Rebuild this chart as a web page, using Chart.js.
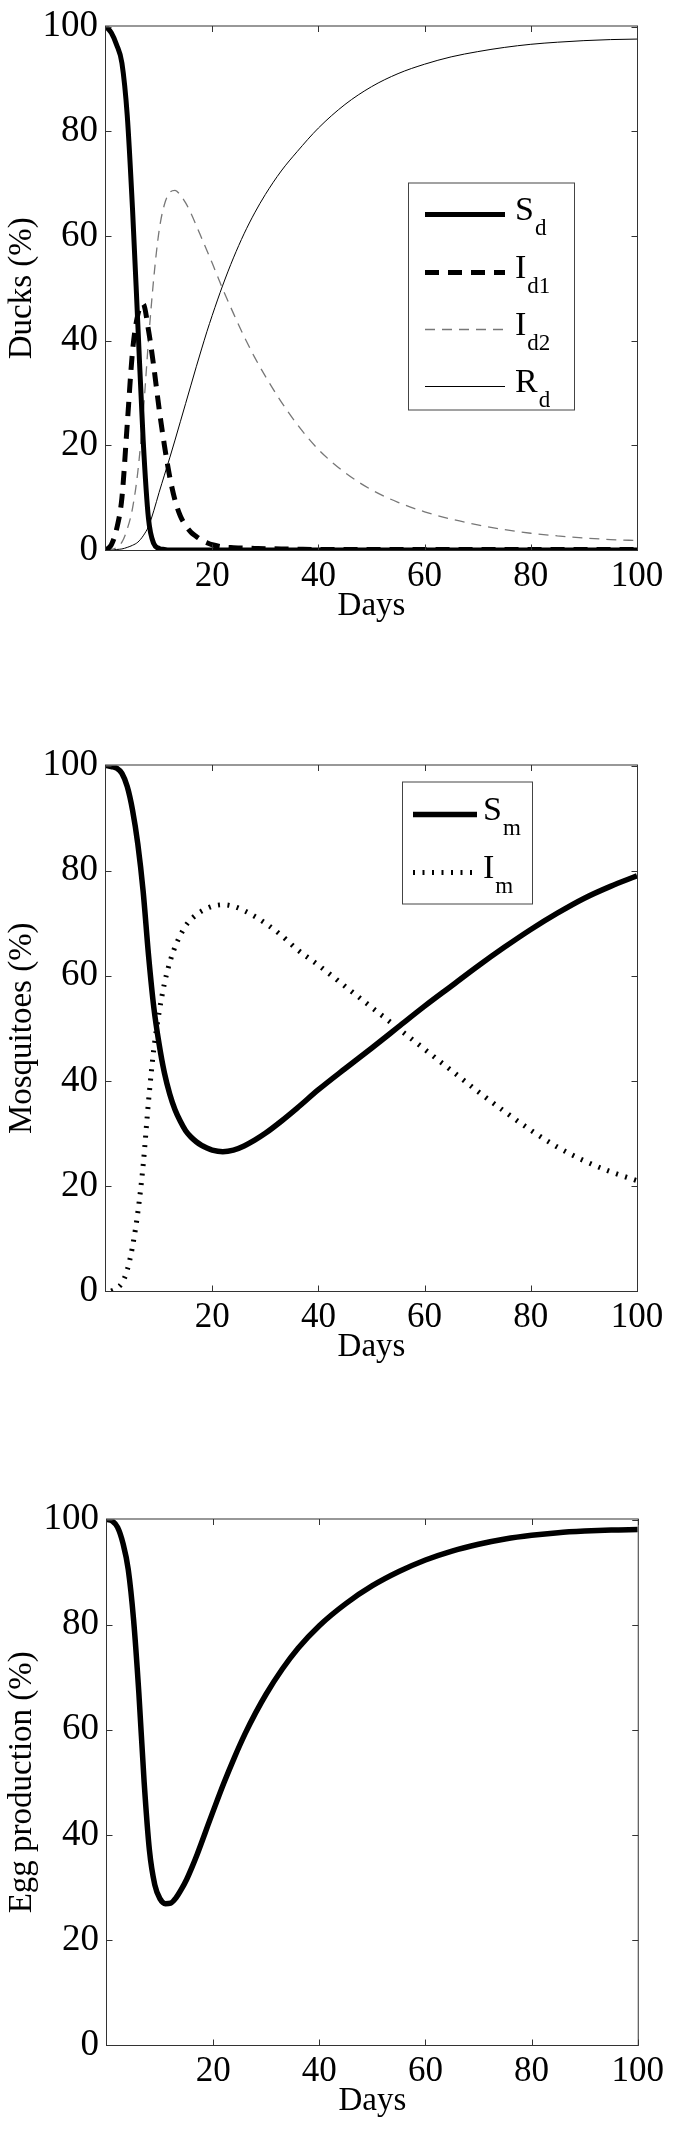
<!DOCTYPE html>
<html>
<head>
<meta charset="utf-8">
<script src="https://cdn.jsdelivr.net/npm/chart.js@4.4.0/dist/chart.umd.min.js"></script>
<style>
  body { margin: 0; background: #fff; }
  .panel { position: absolute; left: 0; width: 673px; }
</style>
</head>
<body>
<div class="panel" style="top:0;height:630px"><canvas id="ducks"></canvas></div>
<div class="panel" style="top:739px;height:632px"><canvas id="mosq"></canvas></div>
<div class="panel" style="top:1493px;height:632px"><canvas id="eggs"></canvas></div>
<script>
// sample days (x) (%)
const days = [0,1,2,3,4,5,6,7,8,9,10,11,12,13,14,15,16,17,18,19,20,22,24,26,28,30,33,36,40,45,50,55,60,65,70,75,80,85,90,95,100];

// ducks
const sD  = [100,98.8,96.5,93,83,65,43,21,6,1.2,0.3,0.1,0,0,0,0,0,0,0,0,0,0,0,0,0,0,0,0,0,0,0,0,0,0,0,0,0,0,0,0,0];
const iD1 = [0,1,4,10,24,38,45,47,42,35,27,20,14,9.5,6.5,4.7,3.4,2.6,1.9,1.4,1.0,0.6,0.45,0.35,0.3,0.25,0.2,0.15,0.1,0.1,0.1,0.1,0.1,0.1,0.1,0.1,0.1,0.1,0.1,0.1,0.1];
const iD2 = [0,0.1,0.5,1.5,4,8,15,26,40,52,61,66,68.3,68.7,67.8,66.3,64.3,62,59.6,57.2,54.8,49.8,45.2,40.8,36.8,33.2,28.3,24,19.2,14.8,11.5,9.1,7.3,5.9,4.8,3.9,3.2,2.7,2.3,2.0,1.8];
const rD  = [0,0,0.1,0.2,0.5,0.9,1.5,2.7,4.5,7.5,11,14.3,17.6,21,24.5,28,31.5,35,38.4,41.7,44.8,50.6,55.8,60.4,64.4,67.9,72.4,76.1,80.6,85.1,88.5,91,92.8,94.2,95.2,96,96.6,97,97.3,97.5,97.6];

// mosquitoes
const sM = [100,99.8,99.5,98.5,96,91.5,85,76,64,54,47,41.5,37.5,34.5,32.3,30.5,29.3,28.4,27.7,27.2,26.8,26.5,26.8,27.6,28.7,30,32.3,34.8,38.3,42.3,46.2,50.2,54.2,58,61.8,65.4,68.8,71.9,74.7,77,79];
const iM = [null,0,0.5,1.5,4,8.5,15,24,36,46,53,58.5,62.5,65.5,67.7,69.5,70.7,71.6,72.3,72.8,73.2,73.5,73.2,72.4,71.3,70,67.7,65,62,58,54,50,46,42,38,34.2,30.6,27.4,24.8,22.7,21];

// egg production
const egg = [100,99.7,98.5,95.5,90.5,81,67,50,37,30.5,27.8,26.9,27,28,29.6,31.5,33.8,36.3,39,41.8,44.5,49.8,54.7,59.2,63.2,66.8,71.5,75.5,79.8,84,87.4,90.1,92.3,94,95.3,96.3,97,97.5,97.8,98,98.1];

const xTicks = [20, 40, 60, 80, 100];
const yTicks = [0, 20, 40, 60, 80, 100];

const FONT = "'Liberation Serif', 'Times New Roman', serif";
Chart.defaults.font.family = FONT;
Chart.defaults.color = '#000';

const pts = arr => days.map((d, i) => ({ x: d, y: arr[i] }));

function line(label, arr, width, dash, color) {
  return {
    label: label,
    data: pts(arr),
    borderColor: color || '#000',
    borderWidth: width,
    borderDash: dash || [],
    borderCapStyle: 'butt',
    pointRadius: 0,
    fill: false,
    cubicInterpolationMode: 'monotone'
  };
}

// box round the plot + inward ticks on all four sides
const framePlugin = {
  id: 'frame',
  afterDraw(chart) {
    const { ctx, chartArea: a, scales } = chart;
    const L = a.left - 0.5, R = a.right + 0.5, T = a.top - 0.5, B = a.bottom + 0.5;
    ctx.save();
    ctx.strokeStyle = '#333';
    ctx.lineWidth = 1;
    ctx.strokeRect(L, T, R - L, B - T);
    ctx.beginPath();
    xTicks.forEach(v => {
      const px = Math.round(scales.x.getPixelForValue(v)) + 0.5;
      ctx.moveTo(px, B); ctx.lineTo(px, B - 6);
      ctx.moveTo(px, T); ctx.lineTo(px, T + 6);
    });
    yTicks.forEach(v => {
      const py = Math.round(scales.y.getPixelForValue(v)) + 0.5;
      ctx.moveTo(L, py); ctx.lineTo(L + 6, py);
      ctx.moveTo(R, py); ctx.lineTo(R - 6, py);
    });
    ctx.stroke();
    ctx.restore();
  }
};

// legend with subscripts (Chart.js legend can't do those)
const subLegend = {
  id: 'subLegend',
  afterDraw(chart, args, opts) {
    if (!opts.items) return;
    const { ctx, chartArea: a } = chart;
    const ox = a.left, oy = a.top;
    ctx.save();
    const [bx0, by0, bx1, by1] = opts.box;
    ctx.fillStyle = '#fff';
    ctx.fillRect(ox + bx0, oy + by0, bx1 - bx0, by1 - by0);
    ctx.strokeStyle = '#444';
    ctx.lineWidth = 1;
    ctx.strokeRect(ox + bx0 + 0.5, oy + by0 + 0.5, bx1 - bx0, by1 - by0);
    opts.items.forEach((it, i) => {
      const ds = chart.data.datasets[it.ds];
      const y = oy + opts.rows[i];
      ctx.strokeStyle = ds.borderColor;
      ctx.lineWidth = ds.borderWidth;
      ctx.setLineDash(ds.borderDash);
      ctx.lineCap = 'butt';
      ctx.beginPath();
      ctx.moveTo(ox + opts.lineX[0], y);
      ctx.lineTo(ox + opts.lineX[1], y);
      ctx.stroke();
      ctx.setLineDash([]);
      ctx.fillStyle = '#000';
      ctx.textBaseline = 'alphabetic';
      ctx.textAlign = 'left';
      ctx.font = '34px ' + FONT;
      const tx = ox + opts.textX;
      ctx.fillText(it.main, tx, y + 5);
      const w = ctx.measureText(it.main).width;
      ctx.font = '23px ' + FONT;
      ctx.fillText(it.sub, tx + w + 1, y + 20);
    });
    ctx.restore();
  }
};

function makeChart(id, datasets, yTitle, leftW, rightPad, legend) {
  return new Chart(document.getElementById(id), {
    type: 'line',
    data: { datasets: datasets },
    plugins: [framePlugin, subLegend],
    options: {
      responsive: true,
      maintainAspectRatio: false,
      animation: false,
      layout: { padding: { top: 20, right: rightPad, left: 0, bottom: 0 } },
      plugins: {
        legend: { display: false },
        tooltip: { enabled: false },
        subLegend: legend || {}
      },
      scales: {
        x: {
          type: 'linear', min: 0, max: 100,
          grid: { display: false, drawTicks: false, tickLength: 0 },
          border: { display: false },
          ticks: {
            stepSize: 20, padding: 9, maxRotation: 0, color: '#000',
            font: { family: FONT, size: 35, lineHeight: 1 },
            callback: v => (v === 0 ? '' : v)
          },
          title: {
            display: true, text: 'Days', color: '#000',
            font: { family: FONT, size: 33, lineHeight: 1.2 },
            padding: { top: 0, bottom: 4 }
          },
          afterFit(s) { s.height = 80; }
        },
        y: {
          min: 0, max: 100,
          grid: { display: false, drawTicks: false, tickLength: 0 },
          border: { display: false },
          ticks: {
            stepSize: 20, padding: 8, color: '#000',
            font: { family: FONT, size: 37, lineHeight: 1 }
          },
          title: {
            display: true, text: yTitle, color: '#000',
            font: { family: FONT, size: 33, lineHeight: 1.2 },
            padding: { top: 3, bottom: 0 }
          },
          afterFit(s) { s.width = leftW; }
        }
      }
    }
  });
}

makeChart('ducks', [
  line('Sd', sD, 5),
  line('Id1', iD1, 5, [14, 9]),
  line('Id2', iD2, 1.3, [10, 7], '#777'),
  line('Rd', rD, 1)
], 'Ducks (%)', 106, 36, {
  box: [302, 156, 468, 383],
  lineX: [319, 399],
  textX: 409,
  rows: [188, 246, 303, 360],
  items: [
    { main: 'S', sub: 'd', ds: 0 },
    { main: 'I', sub: 'd1', ds: 1 },
    { main: 'I', sub: 'd2', ds: 2 },
    { main: 'R', sub: 'd', ds: 3 }
  ]
});

makeChart('mosq', [
  line('Sm', sM, 5.5),
  line('Im', iM, 5, [2, 7.5])
], 'Mosquitoes (%)', 106, 36, {
  box: [296, 16, 426, 138],
  lineX: [307, 371],
  textX: 377,
  rows: [49, 107],
  items: [
    { main: 'S', sub: 'm', ds: 0 },
    { main: 'I', sub: 'm', ds: 1 }
  ]
});

makeChart('eggs', [
  line('Egg production', egg, 5.5)
], 'Egg production (%)', 107, 34);
</script>
</body>
</html>
